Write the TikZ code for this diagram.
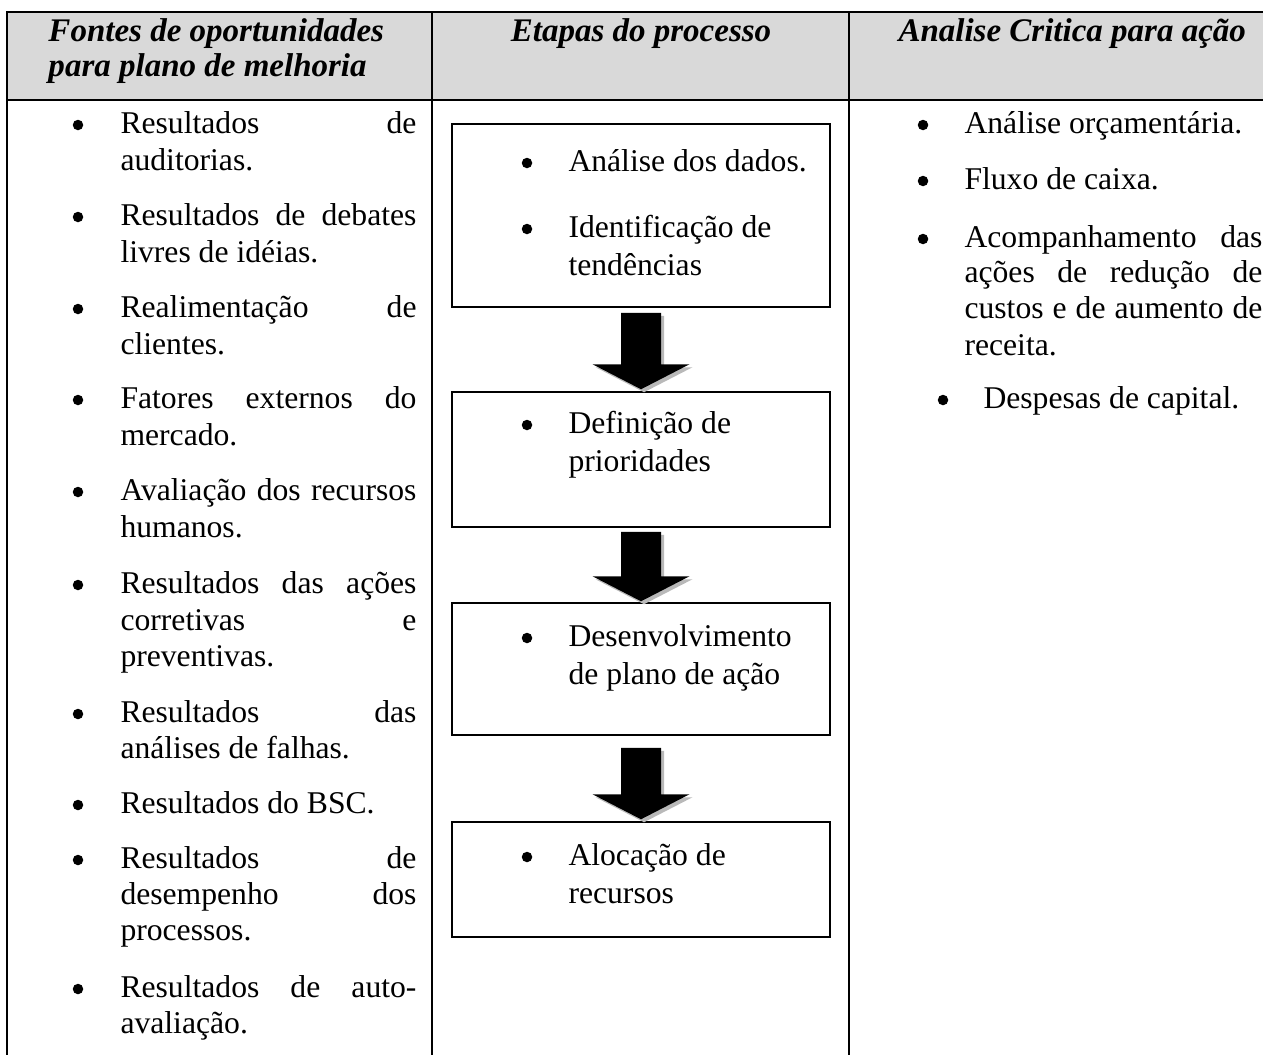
\documentclass[tikz,border=0pt]{standalone}
\usepackage{fontspec}
\setmainfont{Liberation Serif}
\usetikzlibrary{calc}
\newcommand{\justline}[1]{\makebox[118.4pt][s]{#1}}
\newcommand{\justlineR}[1]{\makebox[119.2pt][s]{#1}}
% block arrow from node #1 (south) to node #2 (north); #3 = gap below #1, #4 = gap above #2
\newcommand{\blockarrow}[4]{%
  \fill[gray!55] let \p1=(#1.south), \p2=(#2.north) in
    ({\x1-8pt+1.2pt},{\y1-#3-1.2pt}) -- ({\x1+8pt+1.2pt},{\y1-#3-1.2pt}) --
    ({\x1+8pt+1.2pt},{\y2+#4+10pt-1.2pt}) -- ({\x1+19.4pt+1.2pt},{\y2+#4+10pt-1.2pt}) --
    ({\x1+1.2pt},{\y2+#4-1.2pt}) -- ({\x1-19.4pt+1.2pt},{\y2+#4+10pt-1.2pt}) --
    ({\x1-8pt+1.2pt},{\y2+#4+10pt-1.2pt}) -- cycle;
  \fill[black] let \p1=(#1.south), \p2=(#2.north) in
    ({\x1-8pt},{\y1-#3}) -- ({\x1+8pt},{\y1-#3}) --
    ({\x1+8pt},{\y2+#4+10pt}) -- ({\x1+19.4pt},{\y2+#4+10pt}) --
    ({\x1},{\y2+#4}) -- ({\x1-19.4pt},{\y2+#4+10pt}) --
    ({\x1-8pt},{\y2+#4+10pt}) -- cycle;
}
\begin{document}
\begin{tikzpicture}[x=0.4pt,y=-0.4pt]
\tikzset{
  txt/.style={inner sep=0pt, anchor=base west, font=\fontsize{12.66}{15}\selectfont},
  hdr/.style={inner sep=0pt, anchor=base west, font=\fontsize{13.2}{15}\selectfont\bfseries\itshape},
  dot/.style={circle, fill=black, inner sep=0pt, minimum size=4.2pt},
  tline/.style={line width=0.8pt, line cap=rect},
  stepbox/.style={draw, line width=0.6pt, minimum width=151.2pt, inner sep=0pt}
}
\useasboundingbox (0,0) rectangle (1263,1054);
\begin{scope}
\clip (0,0) rectangle (1263,1054);
% table
\fill[gray!30] (7,12) rectangle (1270,100);
\draw[tline] (7,12) -- (1270,12);
\draw[tline] (7,100) -- (1270,100);
\draw[tline] (7,12) -- (7,1060);
\draw[tline] (432,12) -- (432,1060);
\draw[tline] (849,12) -- (849,1060);
\end{scope}

% headers
\node[hdr] (h1a) at (48,41) {Fontes de oportunidades};
\node[hdr] (h1b) at (48,76) {para plano de melhoria};
\node[hdr, anchor=base] (h2) at (641,41) {Etapas do processo};
\node[hdr] (h3) at (898,41) {Analise Critica para ação};

% left column
\foreach \n/\y in {1/133,2/225,3/317,4/408,5/500,6/593,7/722,8/813,9/868,10/997}
  \node[dot] (lb\n) at (78,\y-8) {};
\node[txt] (l1a) at (120,133) {\justline{Resultados de}};
\node[txt] (l1b) at (120,170) {auditorias.};
\node[txt] (l2a) at (120,225) {\justline{Resultados de debates}};
\node[txt] (l2b) at (120,262) {livres de idéias.};
\node[txt] (l3a) at (120,317) {\justline{Realimentação de}};
\node[txt] (l3b) at (120,354) {clientes.};
\node[txt] (l4a) at (120,408) {\justline{Fatores externos do}};
\node[txt] (l4b) at (120,445) {mercado.};
\node[txt] (l5a) at (120,500) {\justline{Avaliação dos recursos}};
\node[txt] (l5b) at (120,537) {humanos.};
\node[txt] (l6a) at (120,593) {\justline{Resultados das ações}};
\node[txt] (l6b) at (120,630) {\justline{corretivas e}};
\node[txt] (l6c) at (120,666) {preventivas.};
\node[txt] (l7a) at (120,722) {\justline{Resultados das}};
\node[txt] (l7b) at (120,758) {análises de falhas.};
\node[txt] (l8a) at (120,813) {Resultados do BSC.};
\node[txt] (l9a) at (120,868) {\justline{Resultados de}};
\node[txt] (l9b) at (120,904) {\justline{desempenho dos}};
\node[txt] (l9c) at (120,940) {processos.};
\node[txt] (l10a) at (120,997) {\justline{Resultados de auto-}};
\node[txt] (l10b) at (120,1033) {avaliação.};

% middle column boxes
\node[stepbox, minimum height=73.2pt] (b1) at (641,215.5) {};
\node[stepbox, minimum height=54pt] (b2) at (641,459.5) {};
\node[stepbox, minimum height=52.8pt] (b3) at (641,669) {};
\node[stepbox, minimum height=46pt] (b4) at (641,879.5) {};

\node[dot] (mb1) at (527,171-8) {};
\node[txt] (m1) at (568,171) {Análise dos dados.};
\node[dot] (mb2) at (527,237-8) {};
\node[txt] (m2a) at (568,237) {Identificação de};
\node[txt] (m2b) at (568,275) {tendências};
\node[dot] (mb3) at (527,433-8) {};
\node[txt] (m3a) at (568,433) {Definição de};
\node[txt] (m3b) at (568,471) {prioridades};
\node[dot] (mb4) at (527,646-8) {};
\node[txt] (m4a) at (568,646) {Desenvolvimento};
\node[txt] (m4b) at (568,684) {de plano de ação};
\node[dot] (mb5) at (527,865-8) {};
\node[txt] (m5a) at (568,865) {Alocação de};
\node[txt] (m5b) at (568,903) {recursos};

\blockarrow{b1}{b2}{2pt}{0.8pt}
\blockarrow{b2}{b3}{1.6pt}{0.4pt}
\blockarrow{b3}{b4}{4.8pt}{0.8pt}

% right column
\node[dot] (rb1) at (923,133-8) {};
\node[txt] (r1) at (964,133) {Análise orçamentária.};
\node[dot] (rb2) at (923,189-8) {};
\node[txt] (r2) at (964,189) {Fluxo de caixa.};
\node[dot] (rb3) at (923,247-8) {};
\node[txt] (r3a) at (964,247) {\justlineR{Acompanhamento das}};
\node[txt] (r3b) at (964,282) {\justlineR{ações de redução de}};
\node[txt] (r3c) at (964,318) {\justlineR{custos e de aumento de}};
\node[txt] (r3d) at (964,355) {receita.};
\node[dot] (rb4) at (943,408-8) {};
\node[txt] (r4) at (983,408) {Despesas de capital.};
\end{tikzpicture}
\end{document}
